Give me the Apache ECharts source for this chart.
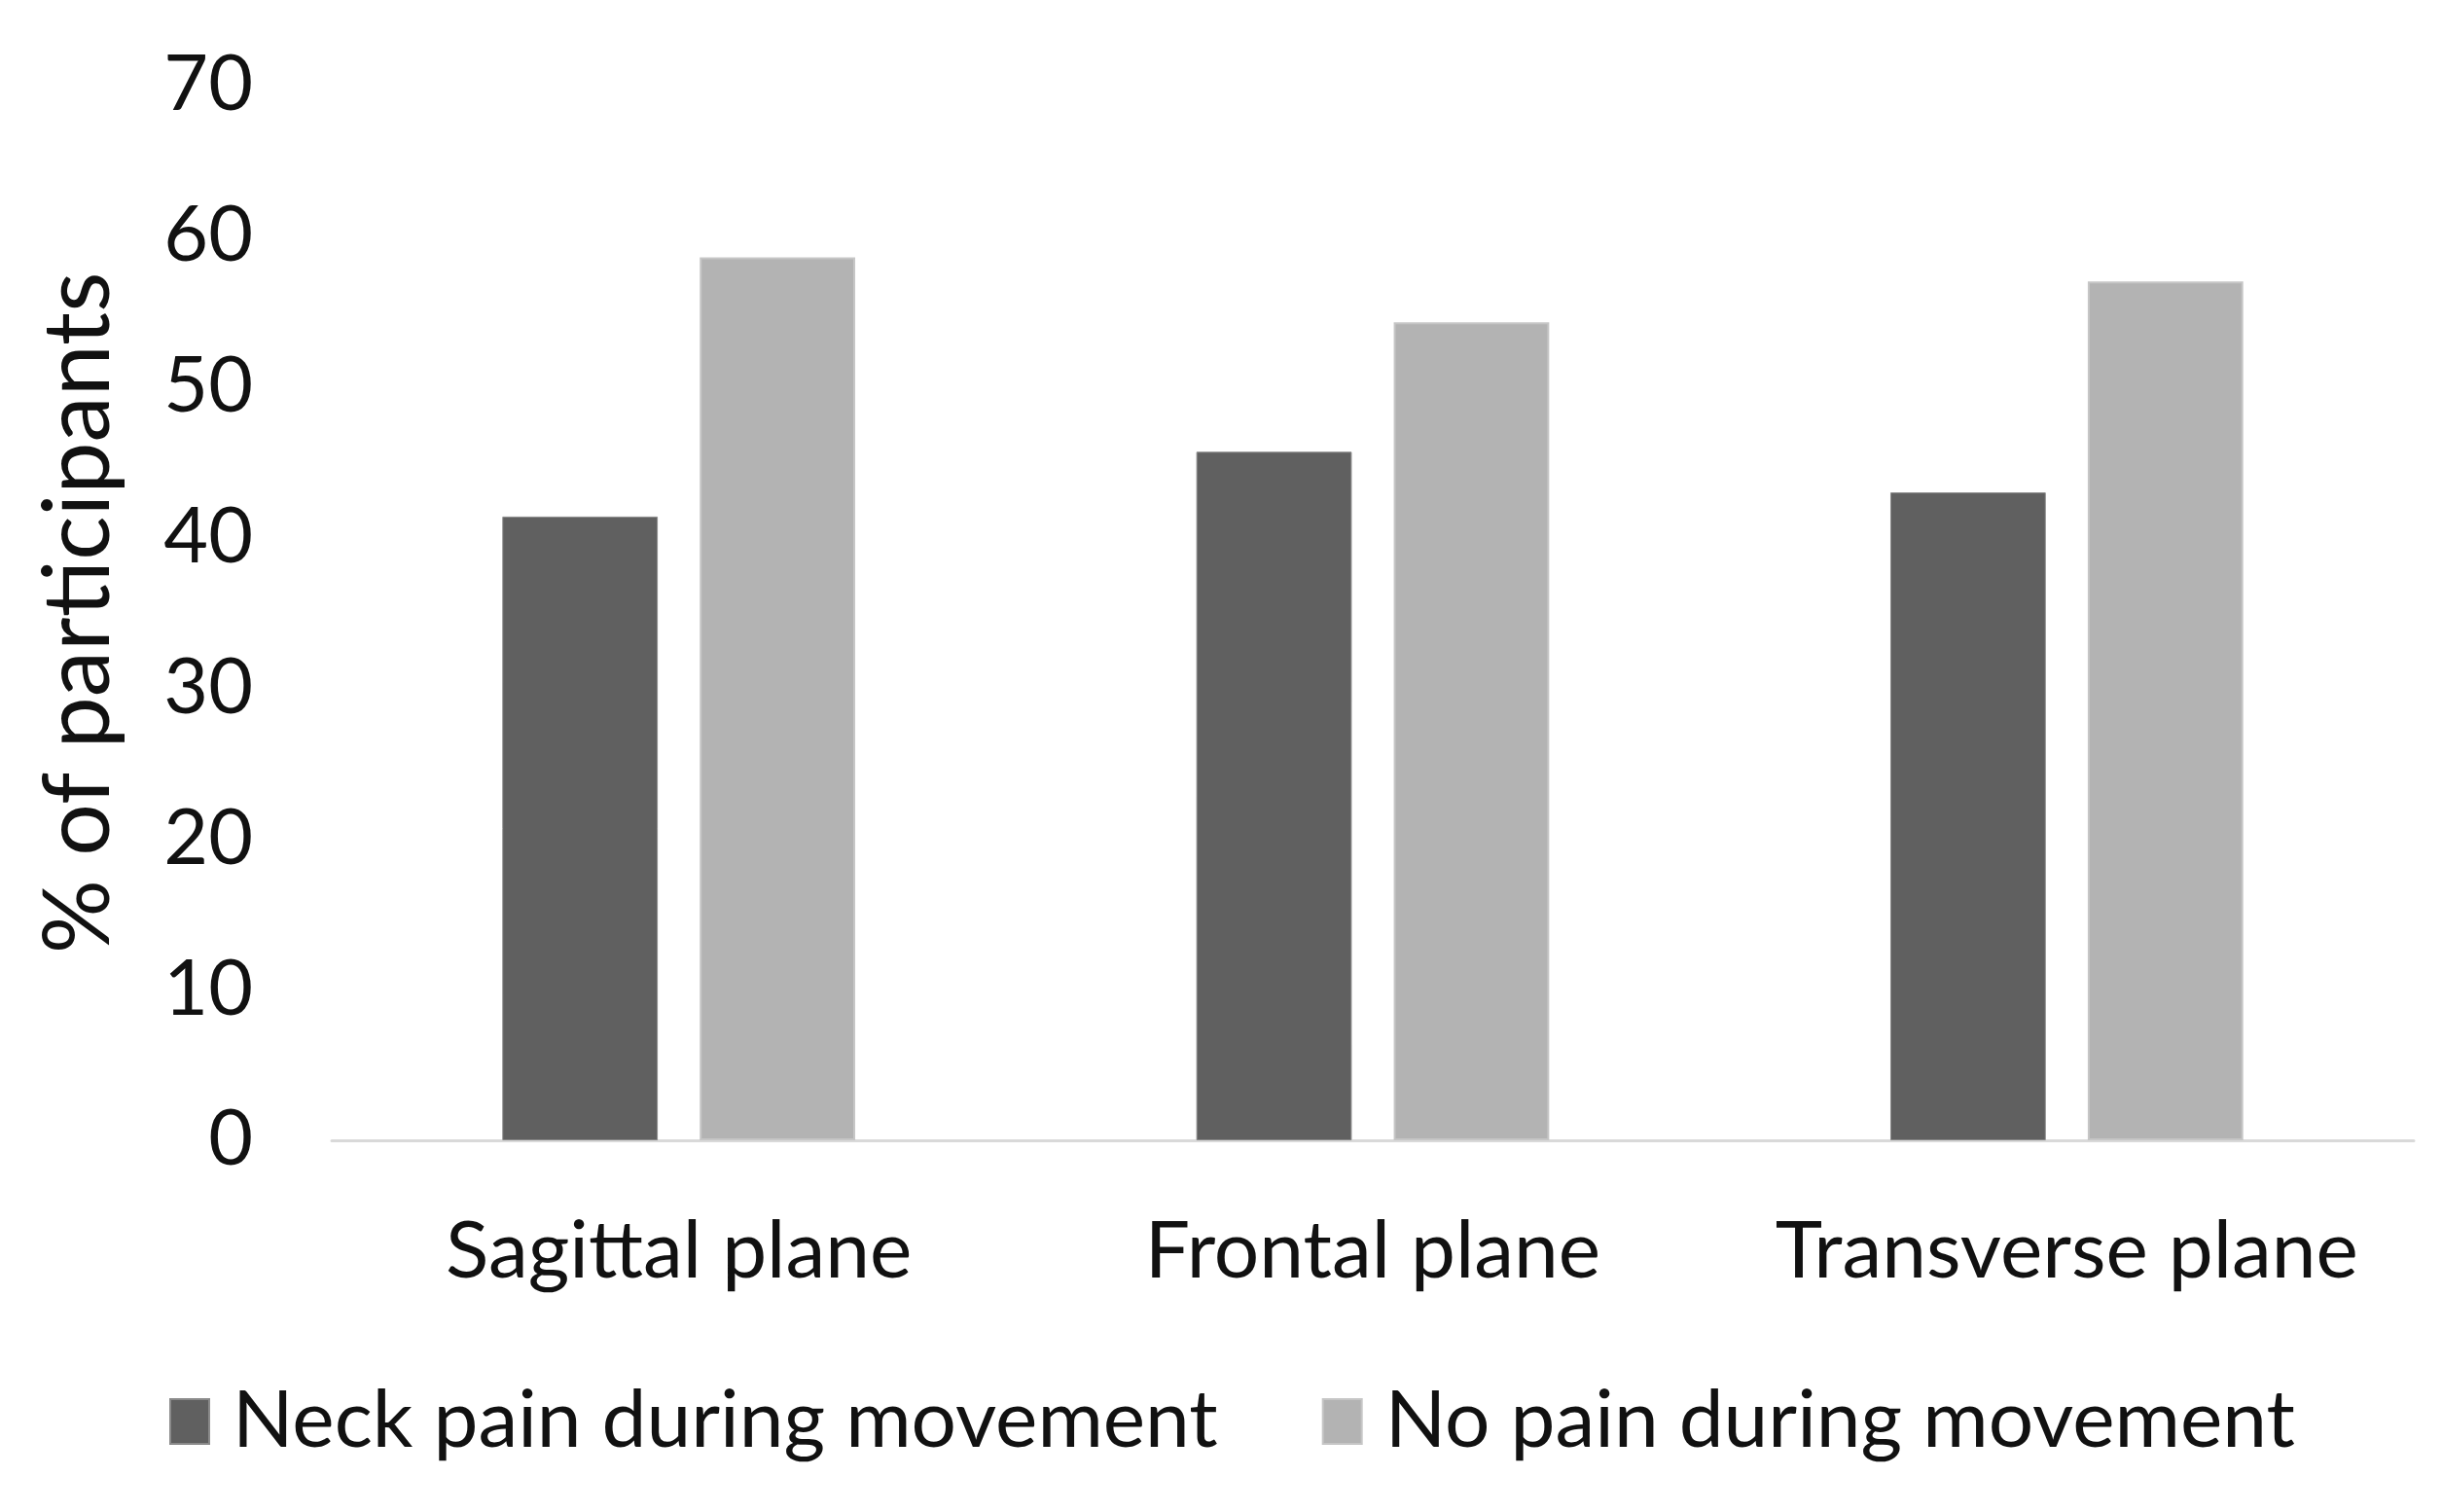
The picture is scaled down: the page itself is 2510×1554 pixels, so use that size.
<!DOCTYPE html>
<html>
<head>
<meta charset="utf-8">
<script src="https://cdn.jsdelivr.net/npm/echarts@6/dist/echarts.min.js"></script>
<style>
html,body{margin:0;padding:0;background:#fff;}
#main{width:2510px;height:1554px;}
</style>
</head>
<body>
<div id="main"></div>
<script>
var categories = ['Sagittal plane', 'Frontal plane', 'Transverse plane'];
var neckPain = [41.4, 45.7, 43.0];
var noPain = [58.6, 54.3, 57.0];
var seriesNames = ['Neck pain during movement', 'No pain during movement'];
var yTicks = {min: 0, max: 70, interval: 10};
var yAxisTitle = '% of participants';

var FONT = 'Lato';
var chart = echarts.init(document.getElementById('main'));
chart.setOption({
  backgroundColor: '#ffffff',
  animation: false,
  grid: {left: 341, right: 29, top: 88, bottom: 382, containLabel: false},
  legend: {
    left: 169, top: 1415,
    itemWidth: 40, itemHeight: 46, itemGap: 107,
    icon: 'rect',
    textStyle: {fontFamily: FONT, fontSize: 82, color: '#111', padding: [0, 0, 0, 19]},
    data: seriesNames
  },
  xAxis: {
    type: 'category',
    data: categories,
    axisLine: {show: true, lineStyle: {color: '#d9d9d9', width: 3}},
    axisTick: {show: false},
    axisLabel: {fontFamily: FONT, fontSize: 82, color: '#111', margin: 74, interval: 0, hideOverlap: false},
    splitLine: {show: false}
  },
  yAxis: {
    type: 'value',
    min: yTicks.min, max: yTicks.max, interval: yTicks.interval,
    name: yAxisTitle,
    nameLocation: 'middle',
    nameRotate: 90,
    nameGap: 212,
    nameTextStyle: {fontFamily: FONT, fontSize: 95, color: '#111'},
    axisLine: {show: false},
    axisTick: {show: false},
    splitLine: {show: false},
    axisLabel: {fontFamily: FONT, fontSize: 79, color: '#111', margin: 81}
  },
  series: [
    {
      name: seriesNames[0], type: 'bar', data: neckPain,
      barWidth: '22.4%', barGap: '27%',
      itemStyle: {color: '#606060', borderColor: '#8a8a8a', borderWidth: 1}
    },
    {
      name: seriesNames[1], type: 'bar', data: noPain,
      barWidth: '22.4%', barGap: '27%',
      itemStyle: {color: '#b3b3b3', borderColor: '#c6c6c6', borderWidth: 2}
    }
  ]
});
</script>
</body>
</html>
